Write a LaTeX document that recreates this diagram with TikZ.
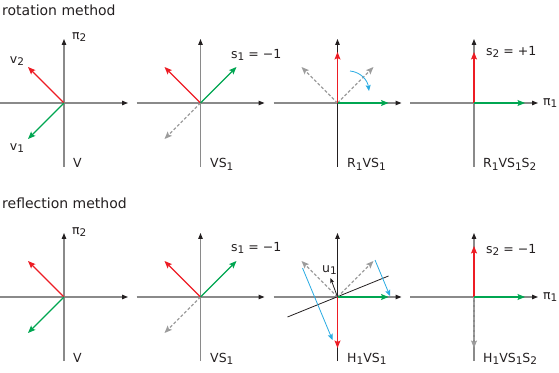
\documentclass[tikz,border=0pt]{standalone}
\usepackage{fontspec}
\setmainfont{DejaVu Sans}
\usepackage{tikz}
\usetikzlibrary{arrows.meta, calc}
\definecolor{vred}{HTML}{ED1C24}
\definecolor{vgreen}{HTML}{00A651}
\definecolor{vblue}{HTML}{29ABE2}
\definecolor{axisgray}{HTML}{8A8A8A}
\definecolor{ghost}{HTML}{9C9C9C}
\definecolor{darkgray}{HTML}{231F20}
\newcommand{\lo}[1]{\raisebox{-0.4ex}{\fontsize{10.5}{11}\selectfont #1}}
\tikzset{
  axis/.style={line width=1.1pt, color=axisgray,
    -{Triangle[length=6pt, width=4.5pt, color=darkgray]}},
  darkaxis/.style={axis, color=darkgray},
  vec/.style={line width=1.1pt, -{Stealth[length=7.5pt, width=6pt, inset=1.5pt]}},
  redvec/.style={vec, color=vred},
  greenvec/.style={vec, color=vgreen},
  ghostvec/.style={vec, color=ghost, dash pattern=on 3pt off 2pt},
  bluevec/.style={line width=0.8pt, color=vblue,
    -{Stealth[length=6pt, width=5pt, inset=1.2pt]}},
  unitvec/.style={line width=0.8pt, color=darkgray,
    -{Stealth[length=5pt, width=4pt, inset=1pt]}},
  mirror/.style={line width=0.8pt, color=darkgray},
  lbl/.style={font=\fontsize{12.5}{14}\selectfont, inner sep=0pt, text=darkgray},
  heading/.style={font=\fontsize{14}{16}\selectfont, inner sep=0pt, text=darkgray, anchor=west},
}

\begin{document}
\begin{tikzpicture}[x=1pt, y=1pt]
  \useasboundingbox (0,0) rectangle (559,372);

  % panel origins
  \coordinate (rot1) at (64,269);
  \coordinate (rot2) at (200.5,269);
  \coordinate (rot3) at (337.5,269);
  \coordinate (rot4) at (474,269);
  \coordinate (ref1) at (64,75);
  \coordinate (ref2) at (200.5,75);
  \coordinate (ref3) at (337.5,75);
  \coordinate (ref4) at (474,75);

  \node[heading] (rottitle) at (2,362) {rotation method};
  \node[heading] (reftitle) at (2,169) {reflection method};

  % ---- rotation method ----
  \draw[axis] ($(rot1)+(-64,0)$) -- ($(rot1)+(64,0)$);
  \draw[axis] ($(rot1)+(0,-64)$) -- ($(rot1)+(0,64)$);
  \draw[redvec] (rot1) -- ($(rot1)+(-36,36)$);
  \draw[greenvec] (rot1) -- ($(rot1)+(-36,-36)$);
  \node[lbl, anchor=west] (pitwo) at ($(rot1)+(8,66)$) {π\lo{2}};
  \node[lbl] (vtwo) at ($(rot1)+(-47,42)$) {v\lo{2}};
  \node[lbl] (vone) at ($(rot1)+(-47,-45)$) {v\lo{1}};
  \node[lbl, anchor=base west] (rotname1) at ($(rot1)+(9,-65)$) {V};

  \draw[axis] ($(rot2)+(-64,0)$) -- ($(rot2)+(64,0)$);
  \draw[axis] ($(rot2)+(0,-64)$) -- ($(rot2)+(0,64)$);
  \draw[ghostvec] (rot2) -- ($(rot2)+(-36,-36)$);
  \draw[redvec] (rot2) -- ($(rot2)+(-36,36)$);
  \draw[greenvec] (rot2) -- ($(rot2)+(36,36)$);
  \node[lbl, anchor=west] (sone) at ($(rot2)+(30.5,48)$) {s\lo{1} = −1};
  \node[lbl, anchor=base west] (rotname2) at ($(rot2)+(9.5,-65)$) {VS\lo{1}};

  \draw[axis] ($(rot3)+(-64,0)$) -- ($(rot3)+(64,0)$);
  \draw[darkaxis] ($(rot3)+(0,-64)$) -- ($(rot3)+(0,64)$);
  \draw[ghostvec] (rot3) -- ($(rot3)+(-36,36)$);
  \draw[ghostvec] (rot3) -- ($(rot3)+(36,36)$);
  \draw[redvec] (rot3) -- ($(rot3)+(0,51)$);
  \draw[greenvec] (rot3) -- ($(rot3)+(51,0)$);
  \coordinate (turnA) at ($(rot3)+(12.5,32)$);
  \coordinate (turnB) at ($(rot3)+(31.5,12)$);
  \draw[bluevec] (turnA) .. controls ($(rot3)+(23,31)$) and ($(rot3)+(30,23)$) .. (turnB);
  \node[lbl, anchor=base west] (rotname3) at ($(rot3)+(9.5,-65)$) {R\lo{1}VS\lo{1}};

  \draw[axis] ($(rot4)+(-64,0)$) -- ($(rot4)+(64,0)$);
  \draw[axis] ($(rot4)+(0,-64)$) -- ($(rot4)+(0,64)$);
  \draw[redvec] (rot4) -- ($(rot4)+(0,51)$);
  \draw[greenvec] (rot4) -- ($(rot4)+(51,0)$);
  \node[lbl, anchor=west] (stwo) at ($(rot4)+(12,51)$) {s\lo{2} = +1};
  \node[lbl, anchor=west] (pione) at ($(rot4)+(69,0)$) {π\lo{1}};
  \node[lbl, anchor=base west] (rotname4) at ($(rot4)+(9,-65)$) {R\lo{1}VS\lo{1}S\lo{2}};

  % ---- reflection method ----
  \draw[axis] ($(ref1)+(-64,0)$) -- ($(ref1)+(64,0)$);
  \draw[axis] ($(ref1)+(0,-64)$) -- ($(ref1)+(0,64)$);
  \draw[redvec] (ref1) -- ($(ref1)+(-36,36)$);
  \draw[greenvec] (ref1) -- ($(ref1)+(-36,-36)$);
  \node[lbl, anchor=west] (pitwob) at ($(ref1)+(8,65)$) {π\lo{2}};
  \node[lbl, anchor=base west] (refname1) at ($(ref1)+(9,-65)$) {V};

  \draw[axis] ($(ref2)+(-64,0)$) -- ($(ref2)+(64,0)$);
  \draw[axis] ($(ref2)+(0,-64)$) -- ($(ref2)+(0,64)$);
  \draw[ghostvec] (ref2) -- ($(ref2)+(-36,-36)$);
  \draw[redvec] (ref2) -- ($(ref2)+(-36,36)$);
  \draw[greenvec] (ref2) -- ($(ref2)+(36,36)$);
  \node[lbl, anchor=west] (soneb) at ($(ref2)+(30.5,49)$) {s\lo{1} = −1};
  \node[lbl, anchor=base west] (refname2) at ($(ref2)+(9.5,-65)$) {VS\lo{1}};

  \draw[axis] ($(ref3)+(-64,0)$) -- ($(ref3)+(64,0)$);
  \draw[darkaxis] ($(ref3)+(0,-64)$) -- ($(ref3)+(0,64)$);
  \draw[mirror] ($(ref3)+(-50,-20)$) -- ($(ref3)+(51,21)$);
  \draw[ghostvec] (ref3) -- ($(ref3)+(-36,36)$);
  \draw[ghostvec] (ref3) -- ($(ref3)+(36,36)$);
  \draw[redvec] (ref3) -- ($(ref3)+(0,-51)$);
  \draw[greenvec] (ref3) -- ($(ref3)+(51,0)$);
  \draw[unitvec] (ref3) -- ($(ref3)+(-7,19)$);
  \node[lbl, anchor=west] (uone) at ($(ref3)+(-15.5,27)$) {u\lo{1}};
  \draw[bluevec] ($(ref3)+(-35,29)$) -- ($(ref3)+(-5,-43)$);
  \draw[bluevec] ($(ref3)+(37.5,37)$) -- ($(ref3)+(52.5,1)$);
  \node[lbl, anchor=base west] (refname3) at ($(ref3)+(9.5,-65)$) {H\lo{1}VS\lo{1}};

  \draw[axis] ($(ref4)+(-64,0)$) -- ($(ref4)+(64,0)$);
  \draw[axis] ($(ref4)+(0,-64)$) -- ($(ref4)+(0,64)$);
  \draw[ghostvec] (ref4) -- ($(ref4)+(0,-51)$);
  \draw[redvec] (ref4) -- ($(ref4)+(0,51)$);
  \draw[greenvec] (ref4) -- ($(ref4)+(51,0)$);
  \node[lbl, anchor=west] (stwob) at ($(ref4)+(12,47)$) {s\lo{2} = −1};
  \node[lbl, anchor=west] (pioneb) at ($(ref4)+(69,0)$) {π\lo{1}};
  \node[lbl, anchor=base west] (refname4) at ($(ref4)+(9,-65)$) {H\lo{1}VS\lo{1}S\lo{2}};

\end{tikzpicture}
\end{document}
